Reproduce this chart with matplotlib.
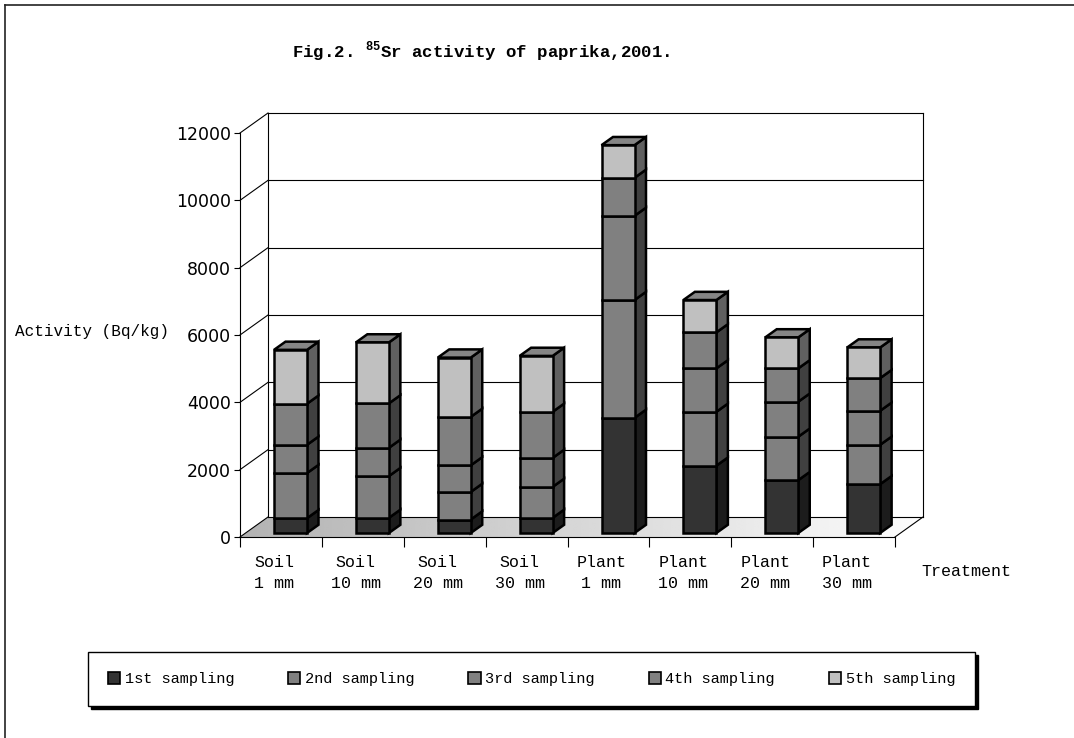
import matplotlib.pyplot as plt
import numpy as np
from matplotlib.patches import Polygon, Rectangle, Patch
from matplotlib.lines import Line2D
from matplotlib.transforms import ScaledTranslation

# 85Sr activity (Bq/kg) per treatment, stacked by sampling
treatments = ['Soil\n1 mm', 'Soil\n10 mm', 'Soil\n20 mm', 'Soil\n30 mm',
              'Plant\n1 mm', 'Plant\n10 mm', 'Plant\n20 mm', 'Plant\n30 mm']
samplings = ['1st sampling', '2nd sampling', '3rd sampling', '4th sampling', '5th sampling']
first = [440, 450, 400, 450, 3420, 2000, 1570, 1450]
second = [1340, 1240, 820, 920, 3500, 1600, 1290, 1170]
third = [840, 840, 790, 860, 2500, 1290, 1040, 1010]
fourth = [1220, 1320, 1440, 1370, 1130, 1070, 990, 970]
fifth = [1600, 1810, 1760, 1660, 970, 960, 920, 910]
yticks = [0, 2000, 4000, 6000, 8000, 10000, 12000]

series = [first, second, third, fourth, fifth]
front_col = ['#333333', '#808080', '#808080', '#808080', '#c0c0c0']
side_col = ['#1c1c1c', '#404040', '#404040', '#404040', '#606060']
top_col = ['#2a2a2a', '#6a6a6a', '#6a6a6a', '#6a6a6a', '#858585']

mono = 'Liberation Mono'
W, H = 1074, 738
fig = plt.figure(figsize=(W / 100, H / 100), dpi=100)

# front plane of the chart in pixels
x0_px, x1_px = 240, 895
y0_px, ytop_px = 537, 133
ymax = yticks[-1]
ncat = len(treatments)
sx = (x1_px - x0_px) / ncat
sy = (y0_px - ytop_px) / ymax

xlim = (-0.6, ncat + 0.6)
ylim = (-1200, ymax + 800)
left = x0_px + xlim[0] * sx
right = x0_px + xlim[1] * sx
bottom = y0_px - ylim[0] * sy
top = y0_px - ylim[1] * sy
ax = fig.add_axes([left / W, 1 - bottom / H, (right - left) / W, (bottom - top) / H])
ax.set_xlim(xlim)
ax.set_ylim(ylim)
ax.patch.set_alpha(0)

# depth of walls and of the bars, in data units
wdx, wdy = 28 / sx, 20 / sy
bdx, bdy = 11.5 / sx, 8.2 / sy
base = 4 / sy
bar_left, bar_w = 34 / sx, 33 / sx

# floor with a grey gradient
floor = Polygon([(0, 0), (ncat, 0), (ncat + wdx, wdy), (wdx, wdy)], closed=True,
                facecolor='none', edgecolor='none', zorder=1)
ax.add_patch(floor)
grad = np.linspace(0.7, 0.99, 256)[None, :]
im = ax.imshow(grad, cmap='gray', vmin=0, vmax=1, aspect='auto',
               extent=(0, ncat + wdx, 0, wdy), zorder=1, interpolation='bilinear')
im.set_clip_path(floor)
ax.set_xlim(xlim)
ax.set_ylim(ylim)

# back wall and side wall grid
lw = 0.8
for v in yticks:
    ax.plot([wdx, ncat + wdx], [v + wdy, v + wdy], color='black', lw=lw, zorder=2)
    ax.plot([0, wdx], [v, v + wdy], color='black', lw=lw, zorder=2)
ax.plot([wdx, wdx], [wdy, ymax + wdy], color='black', lw=lw, zorder=2)
ax.plot([ncat + wdx, ncat + wdx], [wdy, ymax + wdy], color='black', lw=lw, zorder=2)
ax.plot([ncat, ncat + wdx], [0, wdy], color='black', lw=lw, zorder=2)

# stacked 3D-looking bars
blw = 1.8
for i in range(ncat):
    xa = i + bar_left
    xb = xa + bar_w
    y = base
    for j, s in enumerate(series):
        h = s[i]
        ax.add_patch(Polygon([(xb, y), (xb + bdx, y + bdy), (xb + bdx, y + h + bdy), (xb, y + h)],
                             closed=True, facecolor=side_col[j], edgecolor='black',
                             lw=blw, zorder=4, joinstyle='miter'))
        ax.add_patch(Rectangle((xa, y), bar_w, h, facecolor=front_col[j],
                               edgecolor='black', lw=blw, zorder=5, joinstyle='miter'))
        y += h
    ax.add_patch(Polygon([(xa, y), (xb, y), (xb + bdx, y + bdy), (xa + bdx, y + bdy)],
                         closed=True, facecolor=top_col[-1], edgecolor='black',
                         lw=blw, zorder=4, joinstyle='miter'))

# front axes
for side in ['top', 'right']:
    ax.spines[side].set_visible(False)
ax.spines['left'].set_position(('data', 0))
ax.spines['left'].set_bounds(0, ymax)
ax.spines['bottom'].set_position(('data', 0))
ax.spines['bottom'].set_bounds(0, ncat)
for side in ['left', 'bottom']:
    ax.spines[side].set_linewidth(lw)
    ax.spines[side].set_zorder(3)

ax.set_yticks(yticks)
ax.set_yticklabels([str(v) for v in yticks], fontsize=12.5, family='DejaVu Sans')
ax.tick_params(axis='y', direction='out', length=4.5, width=lw, pad=2)

ax.set_xticks(range(ncat + 1))
ax.set_xticklabels([])
ax.tick_params(axis='x', which='major', direction='out', length=7.5, width=lw)
ax.set_xticks(np.arange(ncat) + 0.5, minor=True)
ax.set_xticklabels(treatments, minor=True, fontsize=12, family=mono, linespacing=1.5)
ax.tick_params(axis='x', which='minor', length=0, pad=13)
shift = ScaledTranslation(-7 / 100, 0, fig.dpi_scale_trans)
for lab in ax.get_xticklabels(minor=True):
    lab.set_transform(lab.get_transform() + shift)

fig.text(15 / W, 1 - 331 / H, 'Activity (Bq/kg)', fontsize=11.5, family=mono,
         ha='left', va='center')
fig.text(966 / W, 1 - 571 / H, 'Treatment', fontsize=12, family=mono,
         ha='center', va='center')
fig.text(481 / W, 1 - 52 / H, r'Fig.2. $^{\mathregular{85}}$Sr activity of paprika,2001.',
         fontsize=12.5, family=mono, weight='bold', ha='center', va='center')

# outer frame (top and left edges)
fig.add_artist(Line2D([5 / W, 5 / W], [0, 1 - 5 / H], color='#222222', lw=1.2))
fig.add_artist(Line2D([5 / W, 1], [1 - 5 / H, 1 - 5 / H], color='#222222', lw=1.2))

# legend with a hard shadow
handles = [Patch(facecolor=c, edgecolor='black', lw=1.2) for c in front_col]
leg = fig.legend(handles, samplings, ncol=5, loc='center', mode='expand',
                 bbox_to_anchor=(88 / W, 1 - 708 / H, 887 / W, 58 / H),
                 borderaxespad=0, borderpad=1.3, fancybox=False, edgecolor='black',
                 shadow={'color': 'black', 'alpha': 1},
                 prop={'family': mono, 'size': 11},
                 handlelength=0.8, handleheight=0.8, handletextpad=0.3)
leg.get_frame().set_linewidth(1.0)

fig.savefig('out.png', dpi=100)
